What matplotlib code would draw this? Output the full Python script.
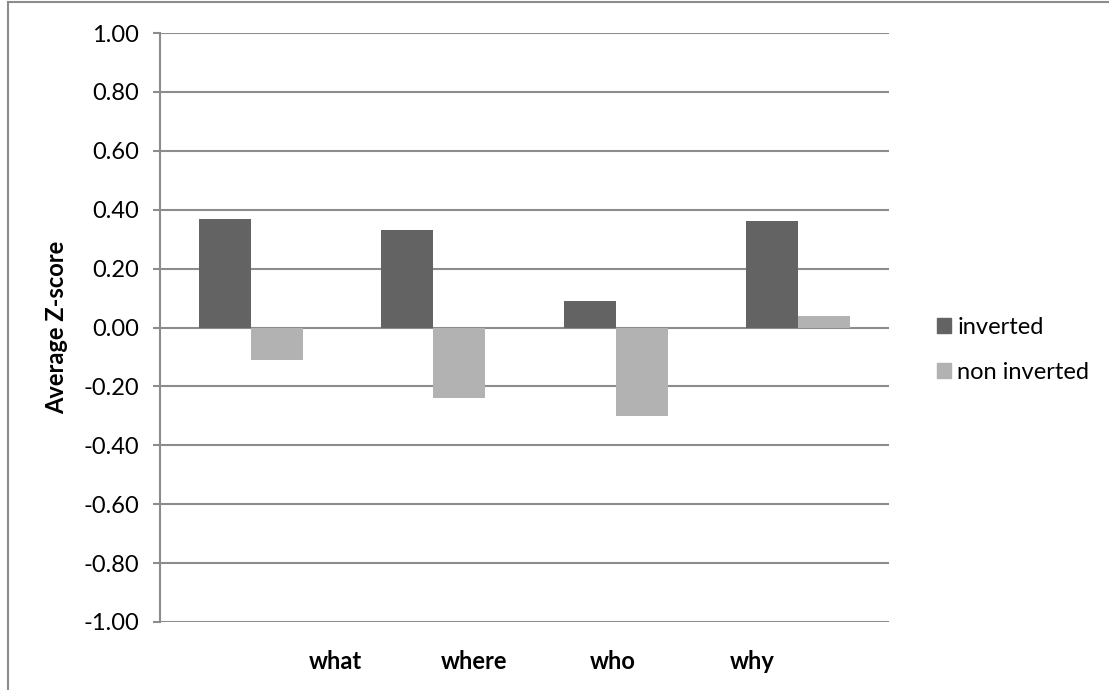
import numpy as np
import matplotlib
matplotlib.use("Agg")
import matplotlib.pyplot as plt
from matplotlib.lines import Line2D
from matplotlib.patches import Patch

# datos
categorias = ["what", "where", "who", "why"]
inverted = [0.37, 0.33, 0.09, 0.36]
non_inverted = [-0.11, -0.24, -0.30, 0.04]
yticks = np.round(np.arange(-1.0, 1.01, 0.2), 2)

gris_grid = "#8c8c8c"
c_inv = "#636363"
c_non = "#b2b2b2"

plt.rcParams['font.family'] = ['Lato', 'DejaVu Sans']

fig = plt.figure(figsize=(11.09, 6.90), dpi=100)
ax = fig.add_axes([160/1109, 1 - 622/690, 729/1109, 589/690])

x = np.arange(len(categorias))
w = 0.285
ax.bar(x - w/2, inverted, w, color=c_inv, zorder=3)
ax.bar(x + w/2, non_inverted, w, color=c_non, zorder=3)

ax.set_xlim(-0.5, len(categorias) - 0.5)
ax.set_ylim(-1, 1)
ax.set_yticks(yticks)
ax.set_yticklabels([f"{v + 0.0:.2f}" for v in yticks], fontsize=17)
ax.yaxis.grid(True, color=gris_grid, linewidth=1.5, zorder=0)

# etiquetas de categorias (desplazadas como en el original)
ax.set_xticks(np.linspace(0.46, 2.75, len(categorias)))
ax.set_xticklabels(categorias, fontsize=17, fontweight='bold')
ax.tick_params(axis='x', length=0, pad=20)
ax.tick_params(axis='y', length=5, width=1.5, color=gris_grid, pad=10)

for s in ['top', 'right', 'bottom']:
    ax.spines[s].set_visible(False)
ax.spines['left'].set_color(gris_grid)
ax.spines['left'].set_linewidth(1.5)

fig.text(57/1109, 1 - 327/690, "Average Z-score", rotation=90,
         ha='center', va='center', fontsize=17, fontweight='bold')

handles = [Patch(color=c_inv), Patch(color=c_non)]
ax.legend(handles, ["inverted", "non inverted"], loc='center left',
          bbox_to_anchor=(916/1109, 1 - 350/690), bbox_transform=fig.transFigure,
          frameon=False, fontsize=17, handlelength=0.6, handleheight=0.6,
          handletextpad=0.25, labelspacing=1.0)

# marco exterior
fig.add_artist(Line2D([8/1109, 8/1109], [0, 1 - 2/690], color=gris_grid, linewidth=1.5))
fig.add_artist(Line2D([8/1109, 1], [1 - 2/690, 1 - 2/690], color=gris_grid, linewidth=1.5))

fig.savefig("out.png", dpi=100)
